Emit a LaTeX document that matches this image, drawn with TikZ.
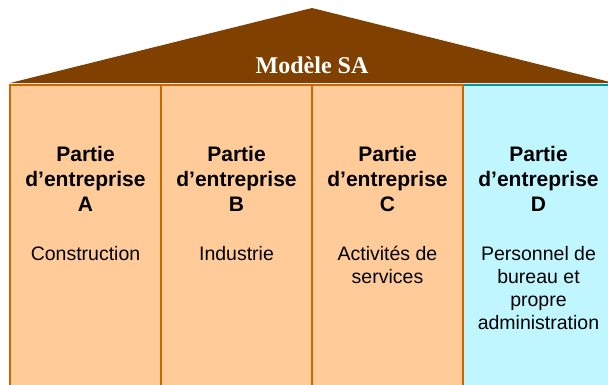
\documentclass[tikz,border=0pt]{standalone}
\usepackage{fontspec}
\setmainfont{Liberation Serif}
\setsansfont{Liberation Sans}
\definecolor{roofbrown}{RGB}{128,64,0}
\definecolor{partorange}{RGB}{255,204,153}
\definecolor{partedge}{RGB}{204,102,0}
\definecolor{adminblue}{RGB}{192,246,255}
\definecolor{adminedge}{RGB}{0,150,165}
\begin{document}
\begin{tikzpicture}[x=1pt,y=-1pt]
    \tikzstyle{column}=[rectangle,draw=partedge,line width=2pt,fill=partorange,minimum width=151pt,minimum height=320pt,anchor=north,inner sep=0pt]
    \tikzstyle{title}=[font=\sffamily\bfseries\fontsize{21}{25}\selectfont,align=center,anchor=base,inner sep=0pt]
    \tikzstyle{desc}=[font=\sffamily\fontsize{19.5}{23.3}\selectfont,align=center,anchor=base,inner sep=0pt]

    \useasboundingbox (0,0) rectangle (608,384);
    \clip (0,0) rectangle (608,384);

    % roof
    \fill[roofbrown] (10,83) -- (312,8) -- (614,83) -- cycle;
    \node[font=\rmfamily\bfseries\fontsize{24}{28}\selectfont,text=white,anchor=base,inner sep=0pt] (roof) at (312,73.3) {Modèle SA};

    % columns
    \node[column,fill=adminblue,draw=adminedge] (col-D) at (538.5,84) {};
    \foreach \x/\p in {85.5/A,236.5/B,387.5/C}
    \node[column] (col-\p) at (\x,84) {};

    % base anchor sits on the last line
    \foreach \x/\p in {85.5/A,236.5/B,387.5/C,538.5/D}
    \node[title] (title-\p) at (\x,211.7) {Partie\\d’entreprise\\\p};

    \foreach \x/\y/\p/\t in {85.5/260/A/Construction,236.5/260/B/Industrie,387.5/283.3/C/{Activités de\\services},538.5/329.9/D/{Personnel de\\bureau et\\propre\\administration}}
    \node[desc] (desc-\p) at (\x,\y) {\t};
  \end{tikzpicture}
\end{document}
